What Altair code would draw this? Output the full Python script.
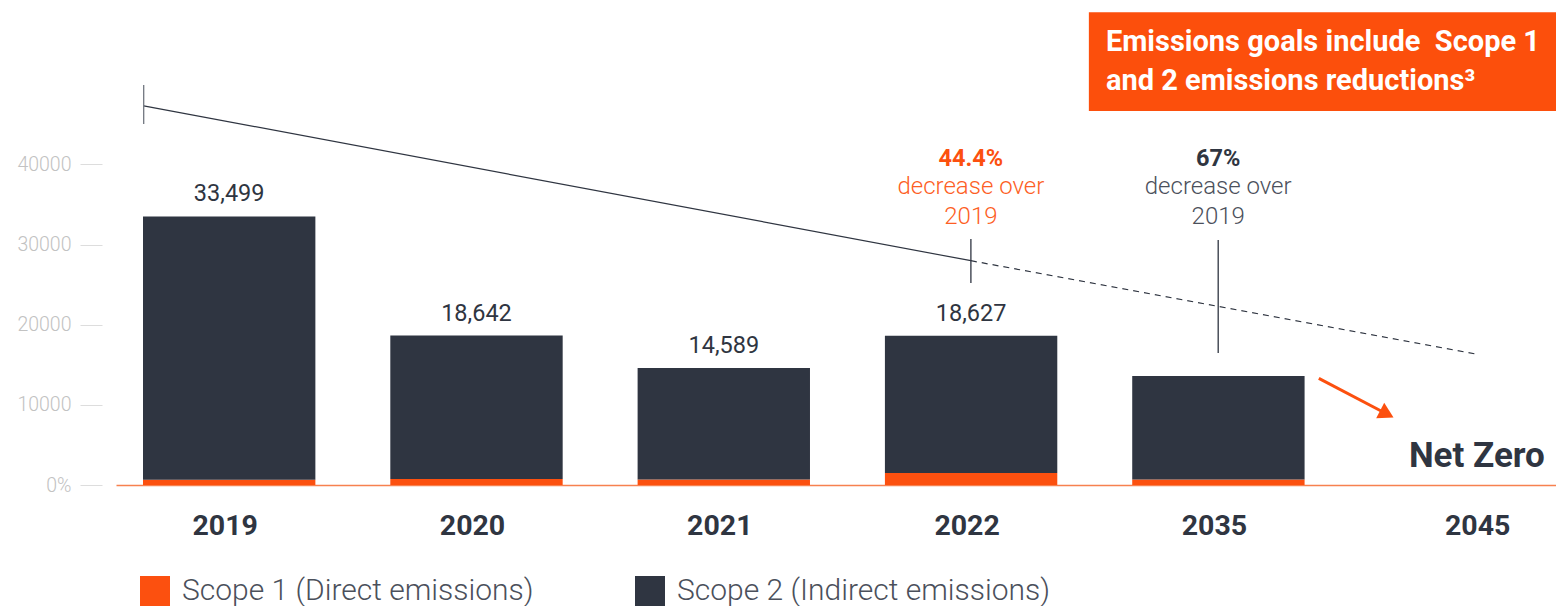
import altair as alt
import pandas as pd

# ---------------- data ----------------
years = ["2019", "2020", "2021", "2022", "2035", "2045"]
bar_years = ["2019", "2020", "2021", "2022", "2035"]
totals = [33499, 18642, 14589, 18627, 13600]
scope1 = [650, 750, 700, 1500, 700]
total_labels = ["33,499", "18,642", "14,589", "18,627", ""]
scope_names = ["Scope 1 (Direct emissions)", "Scope 2 (Indirect emissions)"]
y_ticks = [0, 10000, 20000, 30000, 40000]

# trend line (position in category-index units, value in emissions units)
trend_solid_pos = [-0.345, 3.0]
trend_solid_val = [47300, 27980]
trend_dash_pos = [3.0, 5.042]
trend_dash_val = [27980, 16340]

# marker rules
marker_pos = [-0.345, 3.0, 4.0]
marker_lo = [45030, 25200, 16470]
marker_hi = [49890, 30690, 30560]
marker_col = ["#71767f", "#2f3541", "#2f3541"]

# annotations
pct_text = ["44.4%", "67%"]
pct_pos = [3.0, 4.0]
sub_text = ["decrease over", "2019", "decrease over", "2019"]
sub_pos = [3.0, 3.0, 4.0, 4.0]
box_lines = ["Emissions goals include\u00a0 Scope 1", "and 2 emissions reductions\u00b3"]

ORANGE = "#fc500f"
DARK = "#2f3541"
GRAY = "#4b505b"

# ---------------- tables ----------------
rows = []
for y, t, s1 in zip(bar_years, totals, scope1):
    rows.append({"year": y, "scope": scope_names[0], "value": s1, "ord": 0})
    rows.append({"year": y, "scope": scope_names[1], "value": t - s1, "ord": 1})
bars_df = pd.DataFrame(rows)
labels_df = pd.DataFrame({"year": bar_years, "total": totals, "label": total_labels})

Y_SCALE = alt.Scale(domain=[0, 60500], nice=False, zero=True)
Y_AXIS = alt.Axis(values=y_ticks, labelExpr="datum.value == 0 ? '0%' : '' + datum.value",
                  domain=False, grid=False, offset=14, tickSize=22, labelPadding=9,
                  tickColor="#dddddd", tickWidth=1, labelColor="#c2c2c2",
                  labelFont="Roboto", labelFontSize=19.5, labelFontWeight=300, title=None)
X_SCALE = alt.Scale(domain=years, paddingInner=0.303, paddingOuter=0.0629, align=0.868)
X_AXIS = alt.Axis(title=None, labelAngle=0, ticks=False, tickSize=0, labelPadding=26,
                  labelFont="Roboto", labelFontSize=28.5, labelFontWeight="bold", labelColor=DARK,
                  domainColor="#f7814f", domainWidth=1.6, grid=False,
                  labelOffset={"condition": {"test": "datum.value === '2045'", "value": 12}, "value": -4})
Q_SCALE = alt.Scale(domain=[-0.457, 5.366], nice=False, zero=False)


def qx(field):
    return alt.X(field, type="quantitative", scale=Q_SCALE, axis=None)


def qy(field):
    return alt.Y(field, type="quantitative", scale=Y_SCALE, axis=Y_AXIS)


bars = alt.Chart(bars_df).mark_bar().encode(
    x=alt.X("year:N", sort=years, scale=X_SCALE, axis=X_AXIS),
    y=alt.Y("value:Q", stack="zero", scale=Y_SCALE, axis=Y_AXIS),
    color=alt.Color("scope:N", scale=alt.Scale(domain=scope_names, range=[ORANGE, DARK]),
                    legend=alt.Legend(orient="none", legendX=24, legendY=576, direction="horizontal",
                                      title=None, symbolType="square", symbolSize=900,
                                      symbolStrokeWidth=0, labelFont="Roboto", labelFontSize=30,
                                      labelFontWeight=300, labelColor=GRAY, labelOffset=12,
                                      columnPadding=101, padding=0, labelLimit=0)),
    order=alt.Order("ord:Q"),
)

bar_labels = alt.Chart(labels_df).mark_text(
    font="Roboto", fontSize=23.5, color=DARK, baseline="alphabetic", dy=-15
).encode(
    x=alt.X("year:N", sort=years, scale=X_SCALE, axis=X_AXIS),
    y=alt.Y("total:Q", scale=Y_SCALE, axis=Y_AXIS),
    text="label:N",
)

base = alt.layer(bars, bar_labels)

solid = alt.Chart(pd.DataFrame({"pos": trend_solid_pos, "val": trend_solid_val})).mark_line(
    color=DARK, strokeWidth=1.2).encode(x=qx("pos"), y=qy("val"))
dashed = alt.Chart(pd.DataFrame({"pos": trend_dash_pos, "val": trend_dash_val})).mark_line(
    color=DARK, strokeWidth=1.2, strokeDash=[6, 5]).encode(x=qx("pos"), y=qy("val"))

markers = alt.Chart(pd.DataFrame({"pos": marker_pos, "lo": marker_lo, "hi": marker_hi,
                                  "col": marker_col})).mark_rule(strokeWidth=1.3).encode(
    x=qx("pos"), y=qy("lo"), y2="hi", color=alt.Color("col:N", scale=None))

pct = alt.Chart(pd.DataFrame({"pos": pct_pos, "val": [39790, 39790], "text": pct_text,
                              "col": [ORANGE, DARK]})).mark_text(
    font="Roboto", fontSize=23.5, fontWeight="bold", baseline="alphabetic").encode(
    x=qx("pos"), y=qy("val"), text="text:N", color=alt.Color("col:N", scale=None))

sub = alt.Chart(pd.DataFrame({"pos": sub_pos, "val": [36298, 32555, 36298, 32555], "text": sub_text,
                              "col": ["#fd5e24", "#fd5e24", GRAY, GRAY]})).mark_text(
    font="Roboto", fontSize=24, fontWeight=300, baseline="alphabetic").encode(
    x=qx("pos"), y=qy("val"), text="text:N", color=alt.Color("col:N", scale=None))

net_zero = alt.Chart(pd.DataFrame({"pos": [5.046], "val": [2283], "text": ["Net Zero"]})).mark_text(
    font="Roboto", fontSize=35, fontWeight="bold", baseline="alphabetic", color=DARK).encode(
    x=qx("pos"), y=qy("val"), text="text:N")

arrow_line = alt.Chart(pd.DataFrame({"pos": [4.407, 4.682], "val": [13309, 8856]})).mark_line(
    color=ORANGE, strokeWidth=3).encode(x=qx("pos"), y=qy("val"))
arrow_head = alt.Chart(pd.DataFrame({"pos": [4.682], "val": [8856]})).mark_point(
    shape="triangle-right", filled=True, size=300, angle=27.7, color=ORANGE, opacity=1).encode(
    x=qx("pos"), y=qy("val"))

box = alt.Chart(pd.DataFrame({"x1": [3.477], "x2": [5.366], "y1": [46651], "y2": [58962]})).mark_rect(
    color="#fc4f0c").encode(x=qx("x1"), x2="x2", y=qy("y1"), y2="y2")
box_text = alt.Chart(pd.DataFrame({"pos": [3.546, 3.546], "val": [54135, 49270],
                                   "text": box_lines})).mark_text(
    font="Roboto", fontSize=29, fontWeight="bold", color="white", align="left",
    baseline="alphabetic").encode(x=qx("pos"), y=qy("val"), text="text:N")

chart = alt.layer(
    base, solid, dashed, markers, pct, sub, net_zero, arrow_line, arrow_head, box, box_text
).resolve_scale(x="independent").properties(
    width=1440, height=485,
    autosize=alt.AutoSizeParams(type="none"),
    padding={"left": 116, "top": 0, "right": 0, "bottom": 121},
).configure(font="Roboto", background="white").configure_view(
    stroke=None, strokeWidth=0).configure_axisY(domain=False)

chart.save("out.html", embed_options={"renderer": "svg", "actions": False})
